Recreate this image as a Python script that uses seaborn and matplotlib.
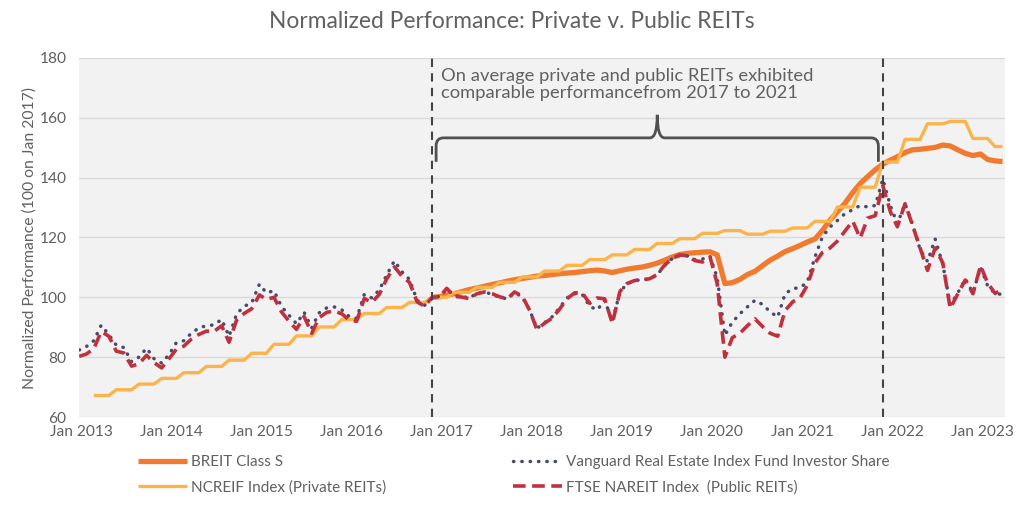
import numpy as np
import pandas as pd
import matplotlib
matplotlib.use("Agg")
import matplotlib.pyplot as plt
import matplotlib.dates as mdates
from matplotlib.path import Path
from matplotlib.patches import PathPatch
import seaborn as sns

nan = np.nan

# monthly points, Feb 2013 .. May 2023
dates = pd.date_range("2013-02-01", periods=124, freq="MS")

breit = [nan] * 47 + [
    100.0, 100.2, 100.8, 101.2, 101.9, 102.6, 103.1, 103.7, 104.3, 104.8,
    105.4, 105.9, 106.3, 106.7, 107.1, 107.3, 107.6, 107.9, 108.1, 108.3,
    108.6, 108.9, 109.1, 108.8, 108.3, 108.9, 109.4, 109.8, 110.1, 110.7,
    111.4, 112.4, 113.5, 114.3, 114.7, 114.9, 115.1, 115.2, 114.2, 104.6,
    104.9, 106.0, 107.6, 108.7, 110.6, 112.4, 113.8, 115.3, 116.3, 117.4,
    118.5, 119.5, 122.3, 125.8, 128.6, 131.5, 135.0, 138.0, 140.4, 142.6,
    144.5, 145.9, 147.0, 148.4, 149.3, 149.5, 149.8, 150.1, 150.9, 150.6,
    149.3, 148.1, 147.4, 147.9, 146.1, 145.6, 145.4,
]

# NCREIF is quarterly, so each value is held for three months
ncreif = [nan, nan,
    67.2, 67.2, 67.2, 69.1, 69.1, 69.1, 71.0, 71.0, 71.0,
    72.9, 72.9, 72.9, 74.8, 74.8, 74.8, 76.9, 76.9, 76.9,
    79.0, 79.0, 79.0, 81.3, 81.3, 81.3, 84.3, 84.3, 84.3,
    87.1, 87.1, 87.1, 90.1, 90.1, 90.1, 92.6, 92.6, 92.6,
    94.6, 94.6, 94.6, 96.6, 96.6, 96.6, 98.3, 98.3, 98.3,
    100.0, 100.0, 100.0, 101.7, 101.7, 101.7, 103.3, 103.3, 103.3,
    105.0, 105.0, 105.0, 106.8, 106.8, 106.8, 108.8, 108.8, 108.8,
    110.7, 110.7, 110.7, 112.6, 112.6, 112.6, 114.2, 114.2, 114.2,
    116.0, 116.0, 116.0, 118.0, 118.0, 118.0, 119.6, 119.6, 119.6,
    121.4, 121.4, 121.4, 122.3, 122.3, 122.3, 121.1, 121.1, 121.1,
    122.1, 122.1, 122.1, 123.2, 123.2, 123.2, 125.4, 125.4, 125.4,
    130.2, 130.2, 130.2, 136.8, 136.8, 136.8, 145.2, 145.2, 145.2,
    152.8, 152.8, 152.8, 158.0, 158.0, 158.0, 158.8, 158.8, 158.8,
    153.1, 153.1, 153.1, 150.4, 150.4,
]

vanguard = [
    82.4, 83.5, 85.5, 90.7, 87.5, 84.0, 83.2, 78.5, 80.0, 83.0,
    79.5, 78.0, 81.0, 84.8, 85.5, 88.0, 89.8, 90.5, 90.8, 92.6,
    87.0, 94.5, 97.0, 98.2, 104.4, 101.5, 102.2, 97.0, 94.0, 91.2,
    95.0, 89.8, 94.8, 96.5, 96.8, 95.8, 93.5, 93.0, 101.0, 99.8,
    102.5, 107.5, 112.2, 108.5, 106.0, 99.0, 97.3, 100.0, 100.3, 102.8,
    100.5, 100.3, 99.8, 101.4, 101.8, 101.0, 100.0, 99.5, 101.5, 100.2,
    95.6, 89.6, 91.5, 93.4, 96.5, 99.8, 101.2, 101.0, 97.0, 95.8,
    99.0, 92.0, 101.8, 104.5, 105.6, 105.9, 106.1, 107.5, 110.6, 113.0,
    114.0, 113.8, 112.6, 112.8, 113.7, 106.5, 87.3, 91.7, 94.5, 96.8,
    99.0, 97.6, 95.2, 93.4, 101.2, 102.9, 103.3, 105.1, 113.5, 120.2,
    123.5, 125.7, 128.0, 129.3, 130.7, 130.2, 130.7, 139.5, 130.5, 124.6,
    131.3, 124.5, 116.0, 112.0, 119.5, 111.0, 97.5, 101.5, 106.2, 101.5,
    110.0, 104.0, 101.2, 101.0,
]

ftse = [
    80.3, 81.0, 82.8, 88.6, 87.0, 82.0, 81.4, 77.0, 77.8, 80.6,
    78.2, 76.4, 79.6, 82.6, 83.7, 86.0, 87.6, 88.7, 88.6, 90.5,
    85.0, 92.5, 94.6, 96.2, 100.8, 99.3, 100.0, 95.2, 92.0, 89.3,
    93.6, 88.0, 93.2, 95.0, 95.4, 94.5, 92.3, 92.0, 99.6, 98.3,
    101.0, 106.2, 110.2, 107.0, 105.0, 98.5, 97.0, 100.0, 100.2, 103.0,
    100.3, 100.1, 99.5, 101.2, 101.8, 101.2, 100.2, 99.5, 101.8, 100.4,
    95.5, 89.3, 91.3, 93.0, 96.0, 99.5, 101.5, 101.5, 98.0, 99.8,
    99.5, 91.3, 102.0, 104.6, 105.6, 105.9, 106.2, 107.6, 110.8, 113.0,
    114.2, 113.9, 112.3, 111.8, 113.5, 104.5, 80.0, 86.5, 88.0, 90.5,
    92.8, 90.2, 88.0, 87.0, 95.6, 98.5, 100.0, 104.0, 111.5, 115.0,
    116.5, 118.8, 122.2, 125.5, 119.8, 126.5, 127.3, 137.3, 128.5, 123.6,
    131.3, 124.2, 116.5, 109.0, 116.5, 111.5, 96.3, 101.2, 105.8, 101.2,
    110.6, 104.9, 101.3, 102.7,
]

labels = ["BREIT Class S", "NCREIF Index (Private REITs)",
          "Vanguard Real Estate Index Fund Investor Share",
          "FTSE NAREIT Index  (Public REITs)"]
colors = ["#f07a2d", "#fbb44c", "#464a6b", "#c0313f"]

period_start = pd.Timestamp("2017-01-01")
period_end = pd.Timestamp("2022-01-01")
note = "On average private and public REITs exhibited\ncomparable performancefrom 2017 to 2021"

df = pd.DataFrame({"date": dates, "breit": breit, "ncreif": ncreif,
                   "vanguard": vanguard, "ftse": ftse})

sns.set_theme(style="whitegrid")
plt.rcParams["font.family"] = ["Lato", "DejaVu Sans"]
txt = "#616161"

fig = plt.figure(figsize=(10.24, 5.11), dpi=100)
ax = fig.add_axes([79 / 1024, 1 - 417 / 511, (1005 - 79) / 1024, (417 - 58) / 511])
ax.set_facecolor("#f2f2f2")

sns.lineplot(data=df, x="date", y="breit", ax=ax, color=colors[0], lw=3.8,
             label=labels[0], solid_capstyle="butt")
sns.lineplot(data=df, x="date", y="ncreif", ax=ax, color=colors[1], lw=2.4,
             label=labels[1], solid_capstyle="butt")
sns.lineplot(data=df, x="date", y="vanguard", ax=ax, color=colors[2], lw=2.5,
             label=labels[2], linestyle=(0, (0.1, 2.3)), dash_capstyle="round")
sns.lineplot(data=df, x="date", y="ftse", ax=ax, color=colors[3], lw=2.6,
             label=labels[3], linestyle=(0, (3.5, 1.8)))
handles, _ = ax.get_legend_handles_labels()
ax.get_legend().remove()

for d in [period_start, period_end]:
    ax.axvline(d, color="#444444", lw=1.5, ls=(0, (4, 3)), zorder=5)

# brace over 2017-2021
x0 = mdates.date2num(period_start + pd.Timedelta(days=16))
x1 = mdates.date2num(period_end - pd.Timedelta(days=18))
xm = (x0 + x1) / 2
yh, tip, peak, rx, ry = 153.3, 145.3, 161.0, 30, 2.7
verts = [(x0, tip), (x0, yh - ry), (x0, yh), (x0 + rx, yh), (xm - rx, yh),
         (xm, yh), (xm, peak), (xm, yh), (xm + rx, yh), (x1 - rx, yh),
         (x1, yh), (x1, yh - ry), (x1, tip)]
codes = [Path.MOVETO, Path.LINETO, Path.CURVE3, Path.CURVE3, Path.LINETO,
         Path.CURVE3, Path.CURVE3, Path.CURVE3, Path.CURVE3, Path.LINETO,
         Path.CURVE3, Path.CURVE3, Path.LINETO]
ax.add_patch(PathPatch(Path(verts, codes), fill=False, edgecolor="#505050", lw=2.0,
                       zorder=6))

ax.text(period_start + pd.Timedelta(days=37), 176.6, note, fontsize=13.2, color=txt,
        va="top", ha="left", linespacing=1.05)

ax.set_ylim(60, 180)
ax.set_yticks(range(60, 181, 20))
ax.set_xlim(pd.Timestamp("2013-01-31"), pd.Timestamp("2023-05-11"))
years = list(range(2013, 2024))
ax.set_xticks([pd.Timestamp(f"{y}-01-01") + pd.Timedelta(days=38) for y in years])
ax.set_xticklabels([f"Jan {y}" for y in years])
ax.grid(axis="x", visible=False)
ax.grid(axis="y", color="#d9d9d9", lw=1)
for s in ax.spines.values():
    s.set_visible(False)
ax.tick_params(axis="both", length=0, labelsize=11.2, labelcolor=txt)
ax.tick_params(axis="y", pad=9)
ax.tick_params(axis="x", pad=6)
ax.set_xlabel("")
ax.set_ylabel("Normalized Performance (100 on Jan 2017)", fontsize=11.3, color=txt,
              labelpad=2)

fig.text(0.5, 1 - 22 / 511, "Normalized Performance: Private v. Public REITs",
         ha="center", va="center", fontsize=16.4, color=txt)

leg_kw = dict(frameon=False, fontsize=11, labelcolor=txt, handlelength=3.2,
              handletextpad=0.3, labelspacing=0.75, borderpad=0, borderaxespad=0,
              loc="upper left")
fig.legend(handles[:2], labels[:2], bbox_to_anchor=(138 / 1024, 1 - 455 / 511), **leg_kw)
fig.legend(handles[2:], labels[2:], bbox_to_anchor=(513 / 1024, 1 - 455 / 511), **leg_kw)

fig.savefig("out.png", dpi=100)
